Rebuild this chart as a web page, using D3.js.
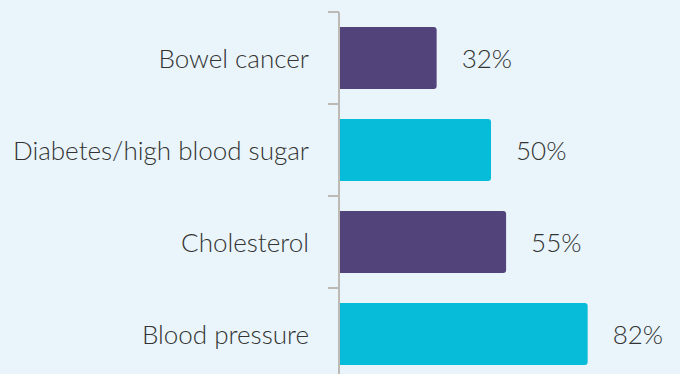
<!DOCTYPE html>
<html>
<head>
<meta charset="utf-8">
<script src="https://cdn.jsdelivr.net/npm/d3@7"></script>
<style>
  html, body { margin: 0; padding: 0; background: #e9f5fa; }
  svg { display: block; }
</style>
</head>
<body>
<div id="chart"></div>
<script>
// data
const categories = ["Bowel cancer", "Diabetes/high blood sugar", "Cholesterol", "Blood pressure"];
const values = [32, 50, 55, 82];
const barColors = ["#52437b", "#06bcd9", "#52437b", "#06bcd9"];

const width = 680, height = 374;
const font = "Lato, 'Open Sans', sans-serif";

const svg = d3.select("#chart").append("svg")
  .attr("width", width)
  .attr("height", height);

svg.append("rect")
  .attr("width", width)
  .attr("height", height)
  .attr("fill", "#e9f5fa");

const x = d3.scaleLinear()
  .domain([0, 100])
  .range([340, 642]);

const y = d3.scaleBand()
  .domain(categories)
  .range([12, 380])
  .paddingInner(0.326)
  .paddingOuter(0.163);

const axisX = 339;

// axis line + band-boundary ticks
svg.append("line")
  .attr("x1", axisX).attr("x2", axisX)
  .attr("y1", y.range()[0]).attr("y2", y.range()[1])
  .attr("stroke", "#bdb9b5")
  .attr("stroke-width", 2);

const bounds = categories.map(c => y(c) - y.step() * y.paddingInner() / 2)
  .concat([y.range()[1]]);

svg.append("g")
  .selectAll("line")
  .data(bounds)
  .join("line")
  .attr("x1", axisX - 11).attr("x2", axisX)
  .attr("y1", d => d).attr("y2", d => d)
  .attr("stroke", "#bdb9b5")
  .attr("stroke-width", 2);

// category labels
svg.append("g")
  .selectAll("text")
  .data(categories)
  .join("text")
  .attr("x", 309)
  .attr("y", d => y(d) + y.bandwidth() / 2)
  .attr("text-anchor", "end")
  .attr("dominant-baseline", "central")
  .style("font-family", font)
  .style("font-size", "26px")
  .style("font-weight", 300)
  .style("fill", "#333333")
  .text(d => d);

// bars, right corners rounded
const r = 3;
function barPath(v, c) {
  const x0 = x(0), x1 = x(v), y0 = y(c), y1 = y0 + y.bandwidth();
  return `M${x0},${y0}H${x1 - r}Q${x1},${y0} ${x1},${y0 + r}V${y1 - r}Q${x1},${y1} ${x1 - r},${y1}H${x0}Z`;
}

svg.append("g")
  .selectAll("path")
  .data(categories)
  .join("path")
  .attr("d", (c, i) => barPath(values[i], c))
  .attr("fill", (c, i) => barColors[i]);

// value labels
svg.append("g")
  .selectAll("text")
  .data(categories)
  .join("text")
  .attr("x", (c, i) => x(values[i]) + 25)
  .attr("y", c => y(c) + y.bandwidth() / 2)
  .attr("dominant-baseline", "central")
  .style("font-family", font)
  .style("font-size", "26px")
  .style("font-weight", 300)
  .style("fill", "#333333")
  .text((c, i) => values[i] + "%");
</script>
</body>
</html>
